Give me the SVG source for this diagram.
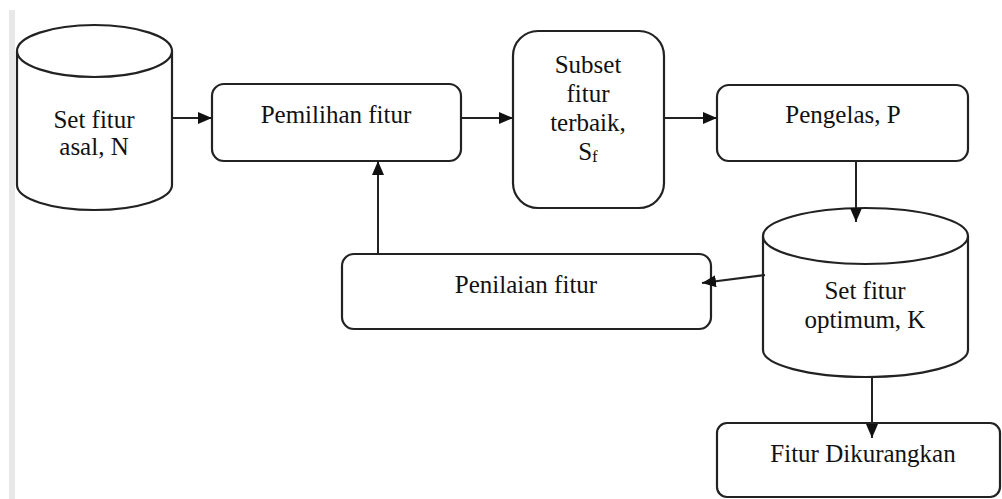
<svg xmlns="http://www.w3.org/2000/svg" width="1002" height="499" viewBox="0 0 1002 499">
  <style>
    .shape { fill: #ffffff; stroke: #222222; stroke-width: 2.2; }
    .edge { fill: none; stroke: #222222; stroke-width: 2; }
    .label { font-family: "Liberation Serif", "Times New Roman", serif; font-size: 25px; fill: #111111; text-anchor: middle; }
    .sub { font-size: 17px; }
  </style>
  <defs>
    <marker id="arrow" viewBox="0 0 14 12" refX="14" refY="6" markerWidth="14" markerHeight="12" orient="auto" markerUnits="userSpaceOnUse">
      <path d="M0,0 L14,6 L0,12 Z" fill="#111111"/>
    </marker>
  </defs>

  <rect width="1002" height="499" fill="#ffffff"/>
  <!-- page margin rule -->
  <rect x="9" y="10" width="6" height="489" fill="#e8e8e8"/>

  <!-- original feature set (cylinder) -->
  <g id="set-fitur-asal">
    <path class="shape" d="M17,51 L17,185 A77.5,25 0 0,0 172,185 L172,51"/>
    <ellipse class="shape" cx="94.5" cy="51" rx="77.5" ry="26"/>
    <text class="label" x="94" y="128">Set fitur</text>
    <text class="label" x="94" y="155">asal, N</text>
  </g>

  <g id="pemilihan-fitur">
    <rect class="shape" x="212" y="84" width="249" height="77" rx="12"/>
    <text class="label" x="336" y="123">Pemilihan fitur</text>
  </g>

  <g id="subset-fitur">
    <rect class="shape" x="513" y="31" width="151" height="177" rx="25"/>
    <text class="label" x="588" y="73">Subset</text>
    <text class="label" x="588" y="102">fitur</text>
    <text class="label" x="588" y="131">terbaik,</text>
    <text class="label" x="588" y="160">S<tspan class="sub" dy="2">f</tspan></text>
  </g>

  <g id="pengelas">
    <rect class="shape" x="717" y="85" width="251" height="76" rx="12"/>
    <text class="label" x="843" y="123">Pengelas, P</text>
  </g>

  <!-- optimum feature set (cylinder) -->
  <g id="set-fitur-optimum">
    <path class="shape" d="M763,236 L763,350 A102.5,27 0 0,0 968,350 L968,236"/>
    <ellipse class="shape" cx="865.5" cy="236" rx="102.5" ry="28"/>
    <text class="label" x="865" y="299">Set fitur</text>
    <text class="label" x="865" y="328">optimum, K</text>
  </g>

  <g id="penilaian-fitur">
    <rect class="shape" x="342" y="254" width="369" height="75" rx="12"/>
    <text class="label" x="526" y="293">Penilaian fitur</text>
  </g>

  <g id="fitur-dikurangkan">
    <rect class="shape" x="717" y="423" width="283" height="74" rx="10"/>
    <text class="label" x="863" y="462">Fitur Dikurangkan</text>
  </g>

  <!-- connectors, drawn over the shapes so the heads stay visible -->
  <g id="connectors">
    <line class="edge" x1="172" y1="118" x2="212" y2="118" marker-end="url(#arrow)"/>
    <line class="edge" x1="461" y1="118" x2="513" y2="118" marker-end="url(#arrow)"/>
    <line class="edge" x1="664" y1="118" x2="717" y2="118" marker-end="url(#arrow)"/>
    <line class="edge" x1="856" y1="161" x2="856" y2="222" marker-end="url(#arrow)"/>
    <line class="edge" x1="765" y1="275" x2="702" y2="283" marker-end="url(#arrow)"/>
    <line class="edge" x1="378" y1="254" x2="378" y2="161" marker-end="url(#arrow)"/>
    <line class="edge" x1="872" y1="377" x2="872" y2="438" marker-end="url(#arrow)"/>
  </g>
</svg>
